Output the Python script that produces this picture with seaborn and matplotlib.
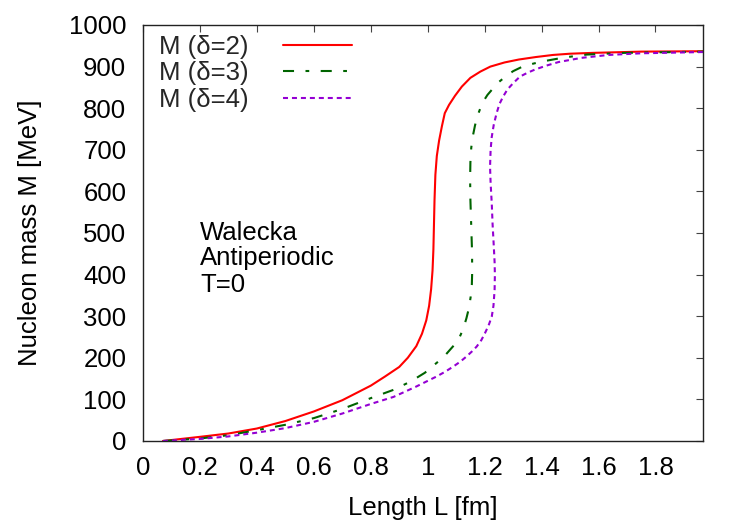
import matplotlib
matplotlib.use("Agg")
import matplotlib.pyplot as plt
import seaborn as sns
import numpy as np

# ---- data ----
L_d2 = [0.07, 0.2, 0.3, 0.4, 0.5, 0.6, 0.7, 0.8, 0.85, 0.9, 0.93, 0.96, 0.98, 0.995,
        1.005, 1.012, 1.017, 1.02, 1.022, 1.024, 1.027, 1.032, 1.04, 1.05, 1.06, 1.075,
        1.096, 1.12, 1.15, 1.185, 1.22, 1.27, 1.32, 1.38, 1.44, 1.5, 1.58, 1.75, 1.967]
M_d2 = [0, 10, 18, 30, 48, 71, 98, 133, 155, 178, 200, 228, 258, 290,
        325, 365, 410, 460, 520, 580, 640, 685, 722, 757, 788, 808,
        830, 852, 873, 888, 900, 910, 917, 923, 928, 931, 933, 936, 937]

L_d3 = [0.07, 0.2, 0.3, 0.4, 0.5, 0.6, 0.7, 0.8, 0.88, 0.94, 0.99, 1.037, 1.06, 1.078,
        1.1, 1.113, 1.125, 1.136, 1.145, 1.151, 1.155, 1.156, 1.156, 1.153, 1.15, 1.149,
        1.15, 1.153, 1.158, 1.166, 1.174, 1.185, 1.195, 1.21, 1.23, 1.25, 1.277, 1.3,
        1.33, 1.37, 1.4, 1.44, 1.48, 1.56, 1.69, 1.967]
M_d3 = [0, 6, 14, 26, 39, 55, 77, 103, 123, 143, 164, 191, 205, 219,
        236, 251, 270, 295, 320, 347, 375, 400, 450, 515, 580, 630,
        670, 705, 731, 758, 780, 800, 816, 832, 848, 863, 878, 889,
        899, 907, 912, 917, 922, 929, 933, 936]

L_d4 = [0.07, 0.2, 0.3, 0.4, 0.5, 0.6, 0.7, 0.8, 0.88, 0.96, 1.031, 1.06, 1.09, 1.115,
        1.136, 1.155, 1.172, 1.188, 1.201, 1.214, 1.225, 1.231, 1.235, 1.236, 1.235,
        1.232, 1.228, 1.225, 1.221, 1.219, 1.221, 1.225, 1.232, 1.242, 1.252, 1.265,
        1.28, 1.3, 1.324, 1.35, 1.377, 1.42, 1.46, 1.54, 1.635, 1.75, 1.967]
M_d4 = [0, 5, 11, 20, 31, 46, 66, 89, 106, 131, 155, 166, 179, 191,
        203, 215, 227, 242, 259, 278, 299, 325, 363, 400, 430,
        470, 520, 571, 620, 659, 700, 731, 760, 788, 810, 828,
        845, 860, 876, 885, 893, 903, 911, 921, 928, 932, 935]

labels = ["M (\u03b4=2)", "M (\u03b4=3)", "M (\u03b4=4)"]
x_ticks = [0, 0.2, 0.4, 0.6, 0.8, 1.0, 1.2, 1.4, 1.6, 1.8]
x_ticklabels = ["0", "0.2", "0.4", "0.6", "0.8", "1", "1.2", "1.4", "1.6", "1.8"]
y_ticks = [0, 100, 200, 300, 400, 500, 600, 700, 800, 900, 1000]
notes = ["Walecka", "Antiperiodic", "T=0"]

# ---- style ----
sns.set_theme(style="white")
FS = 18.5
plt.rcParams["font.family"] = ["Liberation Sans", "DejaVu Sans"]
plt.rcParams["font.size"] = FS

fig = plt.figure(figsize=(7.5, 5.25), dpi=100)
ax = fig.add_axes([143 / 750, 1 - 441 / 525, 560 / 750, 416 / 525])

lw = 1.5
sns.lineplot(x=L_d2, y=M_d2, sort=False, estimator=None, ax=ax, color="#ff0000",
             lw=lw, label=labels[0])
sns.lineplot(x=L_d3, y=M_d3, sort=False, estimator=None, ax=ax, color="#006400",
             lw=lw, linestyle=(0, (5.3, 5.5, 1.8, 5.5)), label=labels[1])
sns.lineplot(x=L_d4, y=M_d4, sort=False, estimator=None, ax=ax, color="#9400d3",
             lw=lw, linestyle=(0, (2.4, 1.9)), label=labels[2])

ax.set_xlim(0, 1.967)
ax.set_ylim(0, 1000)
ax.set_xticks(x_ticks)
ax.set_xticklabels(x_ticklabels)
ax.set_yticks(y_ticks)

ax.tick_params(axis="both", which="major", direction="in", length=5, width=0.8,
               labelsize=FS, color="#444444", top=True, right=True, labelcolor="black")
ax.tick_params(axis="x", pad=11)
ax.tick_params(axis="y", pad=12)
for s in ax.spines.values():
    s.set_color("#222222")
    s.set_linewidth(1.0)
    s.set_visible(True)

ax.set_xlabel("Length L [fm]", fontsize=FS, labelpad=11, color="black")
ax.set_ylabel("Nucleon mass M [MeV]", fontsize=FS, labelpad=19, color="black")

leg = ax.legend(loc="upper left", bbox_to_anchor=(0.028, 0.976), frameon=False,
                markerfirst=False, handlelength=2.7, handletextpad=1.35,
                labelspacing=0.09, borderpad=0, borderaxespad=0, fontsize=FS)

note_y = [483, 423, 359]
for t, yy in zip(notes, note_y):
    ax.text(0.2, yy, t, fontsize=FS, va="baseline", ha="left", color="black")

fig.savefig("out.png", dpi=100)
